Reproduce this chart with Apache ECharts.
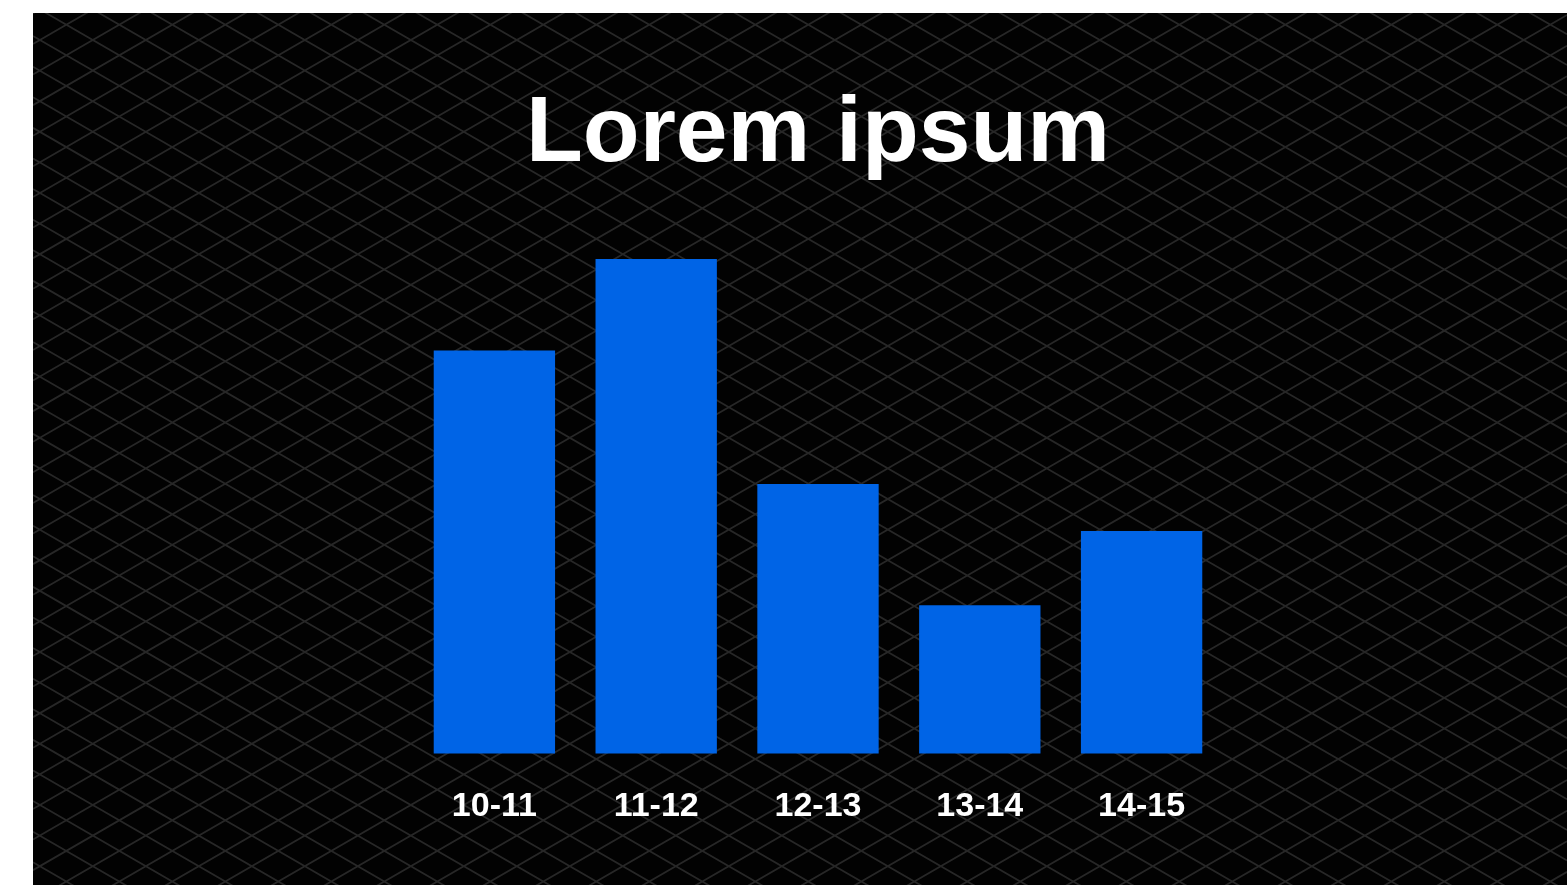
<!DOCTYPE html>
<html>
<head>
<meta charset="utf-8">
<title>Lorem ipsum</title>
<script src="https://cdn.jsdelivr.net/npm/echarts@6/dist/echarts.min.js"></script>
<style>
  html, body { margin: 0; padding: 0; background: #ffffff; }
  #chart { position: absolute; left: 33px; top: 13px; width: 1534px; height: 872px; }
</style>
</head>
<body>
<div id="chart"></div>
<script>
// Chart data
const titleText = 'Lorem ipsum';
const categories = ['10-11', '11-12', '12-13', '13-14', '14-15'];
const values = [81.5, 100, 54.5, 30, 45];

const W = 1534, H = 872;

// Isometric lattice drawn behind the bars
function makeLattice() {
  const cv = document.createElement('canvas');
  cv.width = W; cv.height = H;
  const ctx = cv.getContext('2d');
  ctx.fillStyle = '#020202';
  ctx.fillRect(0, 0, W, H);
  ctx.strokeStyle = '#272727';
  ctx.lineWidth = 1.8;
  ctx.filter = 'blur(0.4px)';
  const s = Math.tan(Math.PI / 6);
  const step = 30.6;
  const x0 = 33.3, y0 = 11.7;
  ctx.beginPath();
  // rising lines
  let c = y0 + s * x0;
  while (c > 0) c -= step;
  for (; c < H + s * W + step; c += step) {
    ctx.moveTo(0, c);
    ctx.lineTo(W, c - s * W);
  }
  // falling lines
  c = y0 - s * x0;
  while (c > -s * W) c -= step;
  for (; c < H + step; c += step) {
    ctx.moveTo(0, c);
    ctx.lineTo(W, c + s * W);
  }
  ctx.stroke();
  return cv;
}

const chart = echarts.init(document.getElementById('chart'), null, { renderer: 'canvas' });

const gridLeft = 380.5, gridWidth = 809, gridTop = 246, gridHeight = 494.5;

chart.setOption({
  backgroundColor: '#020202',
  animation: false,
  graphic: [
    {
      type: 'image',
      z: -100,
      silent: true,
      style: { image: makeLattice(), x: 0, y: 0, width: W, height: H }
    },
    {
      type: 'text',
      z: 10,
      silent: true,
      style: {
        text: titleText,
        x: gridLeft + gridWidth / 2,
        y: 122,
        align: 'center',
        verticalAlign: 'middle',
        fill: '#ffffff',
        fontFamily: 'Liberation Sans, Arial, sans-serif',
        fontWeight: 'bold',
        fontSize: 93
      }
    }
  ],
  grid: {
    left: gridLeft,
    top: gridTop,
    width: gridWidth,
    height: gridHeight,
    containLabel: false
  },
  xAxis: {
    type: 'category',
    data: categories,
    axisLine: { show: false },
    axisTick: { show: false },
    splitLine: { show: false },
    axisLabel: {
      color: '#ffffff',
      fontFamily: 'Liberation Sans, Arial, sans-serif',
      fontWeight: 'bold',
      fontSize: 34,
      margin: 36
    }
  },
  yAxis: {
    type: 'value',
    min: 0,
    max: 100,
    show: false,
    splitLine: { show: false }
  },
  series: [
    {
      type: 'bar',
      data: values,
      barWidth: '75%',
      itemStyle: { color: '#0064E6' }
    }
  ]
});
</script>
</body>
</html>
